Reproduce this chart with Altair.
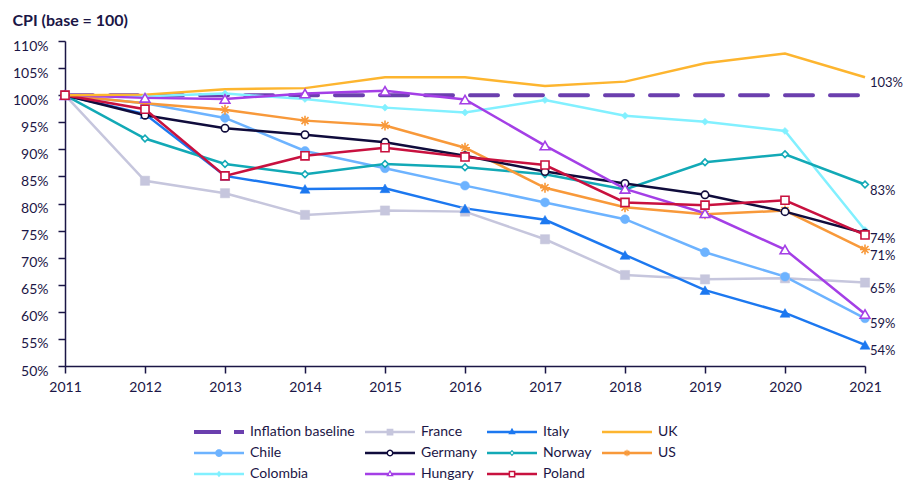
import math
import altair as alt
import pandas as pd

# ---------------- data ----------------
years = list(range(2011, 2022))
baseline = [100] * 11
france = [100, 84.2, 81.9, 77.9, 78.7, 78.5, 73.4, 66.8, 66.0, 66.2, 65.4]
italy = [100, 96.5, 85.1, 82.7, 82.8, 79.1, 77.0, 70.5, 64.0, 59.8, 53.9]
uk = [100, 100.1, 101.1, 101.3, 103.3, 103.3, 101.7, 102.5, 105.9, 107.7, 103.3]
chile = [100, 98.5, 95.8, 89.7, 86.5, 83.3, 80.2, 77.1, 71.0, 66.5, 58.8]
germany = [100, 96.3, 93.9, 92.7, 91.3, 88.8, 85.9, 83.7, 81.6, 78.5, 74.5]
norway = [100, 92.0, 87.3, 85.4, 87.3, 86.7, 85.4, 82.6, 87.6, 89.1, 83.5]
us = [100, 98.5, 97.3, 95.3, 94.4, 90.3, 82.9, 79.3, 78.0, 78.7, 71.5]
colombia = [100, 99.8, 100.3, 99.3, 97.7, 96.8, 99.1, 96.2, 95.1, 93.4, 75.1]
hungary = [100, 99.5, 99.3, 100.3, 100.8, 99.2, 90.7, 82.7, 78.2, 71.5, 59.6]
poland = [100, 97.4, 85.1, 88.8, 90.3, 88.6, 87.1, 80.2, 79.7, 80.6, 74.2]

end_labels = ["103%", "83%", "74%", "71%", "65%", "59%", "54%"]
end_label_values = [103.3, 83.5, 74.5, 71.5, 65.4, 58.8, 53.9]
end_label_year = 2021

series_values = {
    "Inflation baseline": baseline,
    "France": france,
    "Colombia": colombia,
    "Chile": chile,
    "Italy": italy,
    "Norway": norway,
    "US": us,
    "Germany": germany,
    "Hungary": hungary,
    "Poland": poland,
    "UK": uk,
}

# legend order, row-major for 4 columns
legend_order = ["Inflation baseline", "France", "Italy", "UK",
                "Chile", "Germany", "Norway", "US",
                "Colombia", "Hungary", "Poland"]

# ---------------- styles ----------------
NAVY = "#1B1646"
FONT = "Lato"
colors = {
    "Inflation baseline": "#6B3FAE",
    "France": "#C6C6DD",
    "Italy": "#1C78F0",
    "UK": "#FDB52F",
    "Chile": "#6DB3FF",
    "Germany": "#100C3C",
    "Norway": "#12A9B6",
    "US": "#F8993A",
    "Colombia": "#82F0FF",
    "Hungary": "#A43FE6",
    "Poland": "#C8113F",
}

ASTERISK = "M-1,0L1,0M0,-1L0,1M-0.7,-0.7L0.7,0.7M-0.7,0.7L0.7,-0.7"
# name: (shape, size, kind)  kind: filled / open / stroke
marker_styles = {
    "France": ("square", 85, "filled"),
    "Colombia": ("diamond", 50, "filled"),
    "Chile": ("circle", 80, "filled"),
    "Italy": ("triangle-up", 100, "filled"),
    "Norway": ("diamond", 45, "open"),
    "US": (ASTERISK, 100, "stroke"),
    "Germany": ("circle", 55, "open"),
    "Hungary": ("triangle-up", 95, "open"),
    "Poland": ("square", 65, "open"),
}


# ---- legend symbol paths (unit = 25px, sqrt(2500)/2) ----
def _orient(pts, cw=True):
    n = len(pts)
    a = sum(pts[i][0] * pts[(i + 1) % n][1] - pts[(i + 1) % n][0] * pts[i][1] for i in range(n))
    if (a > 0) != cw:
        pts = pts[::-1]
    return pts


def poly(pts, cw=True):
    pts = _orient(list(pts), cw)
    return "M" + "L".join(f"{x:.3f},{y:.3f}" for x, y in pts) + "Z"


def rect(x0, x1, h):
    return poly([(x0, -h), (x1, -h), (x1, h), (x0, h)])


def ngon(r, n=20, rot=0.0):
    return [(r * math.cos(rot + 2 * math.pi * i / n), r * math.sin(rot + 2 * math.pi * i / n)) for i in range(n)]


def tri_pts(r):
    return [(0, -r), (0.866 * r, 0.5 * r), (-0.866 * r, 0.5 * r)]


def dia_pts(r):
    return [(0, -r), (0.85 * r, 0), (0, r), (-0.85 * r, 0)]


def sq_pts(s):
    return [(-s, -s), (s, -s), (s, s), (-s, s)]


LW = 0.05  # half line thickness


def line_full():
    return rect(-1, 1, LW)


def line_split(g):
    return rect(-1, -g, LW) + rect(g, 1, LW)


def ring(outer, inner):
    return poly(outer, True) + poly(inner, False)


def asterisk(r, t):
    out = ""
    for k in range(4):
        ang = k * math.pi / 4
        c, s = math.cos(ang), math.sin(ang)
        pts = [(-r, -t), (r, -t), (r, t), (-r, t)]
        out += poly([(x * c - y * s, x * s + y * c) for x, y in pts])
    return out


legend_paths = {
    "Inflation baseline": rect(-1, 0.08, 0.08) + rect(0.6, 1, 0.08),
    "France": line_full() + poly(sq_pts(0.135)),
    "Italy": line_full() + poly(tri_pts(0.17)),
    "UK": line_full(),
    "Chile": line_full() + poly(ngon(0.155)),
    "Germany": line_split(0.08) + ring(ngon(0.14), ngon(0.08)),
    "Norway": line_split(0.05) + ring(dia_pts(0.13), dia_pts(0.06)),
    "US": line_full() + asterisk(0.13, 0.025),
    "Colombia": line_full() + poly(dia_pts(0.13)),
    "Hungary": line_split(0.04) + ring(tri_pts(0.17), tri_pts(0.07)),
    "Poland": line_split(0.075) + ring(sq_pts(0.135), sq_pts(0.075)),
}

# ---------------- build tables ----------------
rows = []
for name, vals in series_values.items():
    for yr, v in zip(years, vals):
        rows.append({"series": name, "year": yr, "value": v})
df = pd.DataFrame(rows)

labels_df = pd.DataFrame({
    "year": [end_label_year] * len(end_labels),
    "value": end_label_values,
    "label": end_labels,
})

stroke_scale = alt.Scale(domain=legend_order, range=[colors[n] for n in legend_order])

x_enc = alt.X("year:Q",
              scale=alt.Scale(domain=[2011, 2021], nice=False, zero=False),
              axis=alt.Axis(values=years, format="d", title=None, tickSize=7,
                            labelPadding=7, grid=False, labelFlush=False))
y_enc = alt.Y("value:Q",
              scale=alt.Scale(domain=[50, 110], nice=False, zero=False),
              axis=alt.Axis(values=list(range(50, 111, 5)), labelExpr="datum.value + '%'",
                            title=None, tickSize=7, labelPadding=10, grid=False,
                            labelFlush=False, labelOffset=5))

base = alt.Chart(df)

legend_def = alt.Legend(
    title=None, orient="none", legendX=129, legendY=384, columns=4, direction="horizontal",
    symbolSize=2500, symbolStrokeWidth=0, symbolOpacity=1, clipHeight=14,
    rowPadding=7, columnPadding=10, labelOffset=6, labelFontSize=14,
    labelFont=FONT, labelColor=NAVY, padding=0,
)

# legend carrier: tiny marks hidden under the 2011 markers
legend_layer = base.transform_filter(alt.datum.year == 2011).mark_point(
    filled=True, size=1
).encode(
    x=x_enc, y=y_enc,
    color=alt.Color("series:N", scale=alt.Scale(domain=legend_order,
                                                 range=[colors[n] for n in legend_order]),
                    legend=legend_def),
    shape=alt.Shape("series:N", scale=alt.Scale(domain=legend_order,
                                                 range=[legend_paths[n] for n in legend_order]),
                    legend=legend_def),
)

baseline_layer = base.transform_filter(alt.datum.series == "Inflation baseline").mark_line(
    strokeWidth=4, strokeDash=[28, 17], strokeCap="round"
).encode(x=x_enc, y=y_enc, stroke=alt.Stroke("series:N", scale=stroke_scale, legend=None))

lines_layer = base.transform_filter(alt.datum.series != "Inflation baseline").mark_line(
    strokeWidth=2.5
).encode(x=x_enc, y=y_enc, stroke=alt.Stroke("series:N", scale=stroke_scale, legend=None))

marker_layers = []
for name, (shape, size, kind) in marker_styles.items():
    col = colors[name]
    if kind == "filled":
        mk = dict(filled=True, fill=col, stroke=col, strokeWidth=0.5)
    elif kind == "open":
        mk = dict(filled=True, fill="white", stroke=col, strokeWidth=1.6)
    else:
        mk = dict(filled=False, stroke=col, strokeWidth=1.6)
    marker_layers.append(
        base.transform_filter(alt.datum.series == name).mark_point(
            shape=shape, size=size, opacity=1, **mk
        ).encode(x=x_enc, y=y_enc)
    )

text_layer = alt.Chart(labels_df).mark_text(
    align="left", baseline="middle", dx=5, dy=6, fontSize=13, font=FONT, color=NAVY
).encode(x=x_enc, y=y_enc, text="label:N")

chart = alt.layer(
    legend_layer, baseline_layer, lines_layer, *marker_layers, text_layer
).properties(
    width=800, height=325,
    title=alt.Title("CPI (base = 100)", anchor="start", frame="bounds", fontSize=16,
                    font=FONT, fontWeight="bold", color=NAVY, offset=10),
    autosize=alt.AutoSizeParams(type="none"),
    padding={"left": 57, "top": 33, "right": 38, "bottom": 115},
).configure_view(stroke=None).configure_axis(
    domainColor=NAVY, domainWidth=1.5, tickColor=NAVY, tickWidth=1.5,
    labelColor=NAVY, labelFontSize=14, labelFont=FONT,
)

chart.save("out.html", embed_options={"renderer": "svg", "actions": False})
